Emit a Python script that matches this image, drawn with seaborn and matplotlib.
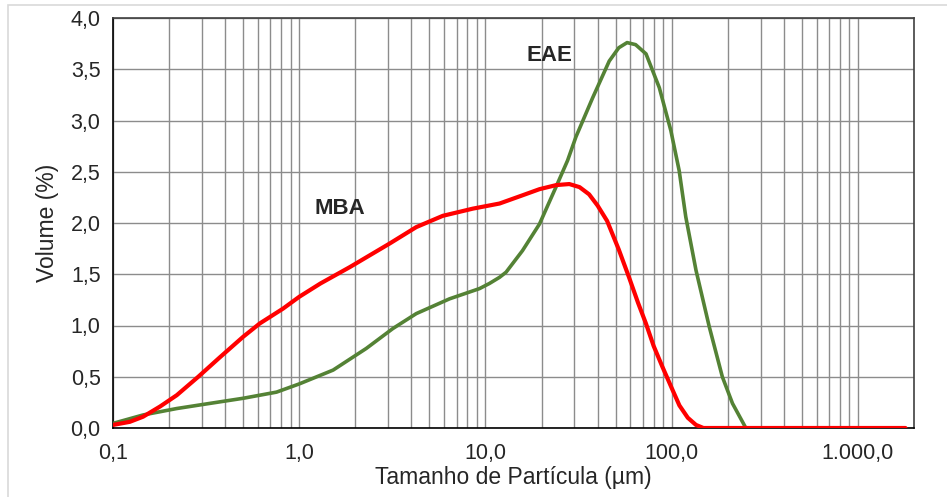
import matplotlib
matplotlib.use("Agg")
import matplotlib.pyplot as plt
import numpy as np
import pandas as pd
import seaborn as sns
from matplotlib.ticker import FixedLocator, NullFormatter
from matplotlib.patches import Rectangle

# curva MBA
mba_x = [0.1, 0.123, 0.145, 0.179, 0.22, 0.287, 0.375, 0.5, 0.614, 0.819, 1.0, 1.3,
         1.87, 3.06, 4.25, 5.9, 8.55, 11.9, 15.8, 19.5, 24.0, 28.2, 32.0, 36.0, 40.0,
         45.0, 52.0, 59.0, 66.0, 72.7, 80.0, 89.0, 100.0, 110.0, 122.0, 135.0, 148.0,
         1800.0]
mba_y = [0.03, 0.06, 0.11, 0.21, 0.32, 0.50, 0.69, 0.89, 1.02, 1.165, 1.28, 1.41,
         1.57, 1.80, 1.96, 2.07, 2.14, 2.19, 2.27, 2.33, 2.37, 2.38, 2.35, 2.28,
         2.17, 2.02, 1.74, 1.47, 1.22, 1.02, 0.80, 0.60, 0.39, 0.22, 0.10, 0.03, 0.0,
         0.0]

# curva EAE
eae_x = [0.1, 0.145, 0.22, 0.331, 0.5, 0.755, 1.0, 1.52, 2.29, 3.18, 4.25, 6.41, 9.29,
         10.5, 11.9, 12.9, 15.8, 19.5, 23.9, 27.6, 30.6, 37.6, 46.2, 52.0, 57.6, 64.0,
         72.8, 85.8, 99.0, 109.7, 119.0, 135.0, 159.0, 187.0, 212.0, 245.0, 250.0]
eae_y = [0.045, 0.127, 0.19, 0.24, 0.29, 0.35, 0.43, 0.565, 0.776, 0.97, 1.116, 1.26,
         1.36, 1.41, 1.47, 1.52, 1.73, 1.99, 2.35, 2.61, 2.84, 3.22, 3.58, 3.71, 3.76,
         3.74, 3.65, 3.32, 2.90, 2.51, 2.06, 1.54, 0.99, 0.50, 0.24, 0.03, 0.0]

xticks = [0.1, 1, 10, 100, 1000]
xtick_labels = ["0,1", "1,0", "10,0", "100,0", "1.000,0"]
yticks = [0, 0.5, 1.0, 1.5, 2.0, 2.5, 3.0, 3.5, 4.0]
ytick_labels = ["0,0", "0,5", "1,0", "1,5", "2,0", "2,5", "3,0", "3,5", "4,0"]

sns.set_style("white")
plt.rcParams['font.family'] = ['Liberation Sans', 'DejaVu Sans']

fig = plt.figure(figsize=(9.47, 4.97), dpi=100)
ax = fig.add_axes([113 / 947, 1 - 428 / 497, (914 - 113) / 947, (428 - 18) / 497])

# moldura clara da figura
fig.patches.append(Rectangle((8 / 947, -0.1), 1.2, 1 - 5 / 497 + 0.1,
                             transform=fig.transFigure, fill=False,
                             edgecolor="#d9d9d9", linewidth=1.2, zorder=-5))

sns.lineplot(x=eae_x, y=eae_y, ax=ax, color="#548235", linewidth=2.6, sort=False,
             zorder=3, solid_joinstyle="round", solid_capstyle="round")
sns.lineplot(x=mba_x, y=mba_y, ax=ax, color="#ff0000", linewidth=3.0, sort=False,
             zorder=4, solid_joinstyle="round", solid_capstyle="round")

ax.set_xscale("log")
ax.set_xlim(0.1, 2000)
ax.set_ylim(0, 4.0)

ax.xaxis.set_major_locator(FixedLocator(xticks))
ax.set_xticklabels(xtick_labels)
minors = [m * 10.0 ** d for d in range(-1, 4) for m in range(2, 10) if m * 10.0 ** d < 2000]
ax.xaxis.set_minor_locator(FixedLocator(minors))
ax.xaxis.set_minor_formatter(NullFormatter())
ax.set_yticks(yticks)
ax.set_yticklabels(ytick_labels)

ax.grid(True, which="major", axis="both", color="#8c8c8c", linewidth=1.0)
ax.grid(True, which="minor", axis="x", color="#8c8c8c", linewidth=1.0)
ax.set_axisbelow(True)

ax.tick_params(axis="x", which="major", direction="out", length=5, width=1,
               color="#404040", labelsize=15.5, pad=6)
ax.tick_params(axis="x", which="minor", length=0)
ax.tick_params(axis="y", direction="out", length=5, width=1, color="#404040",
               labelsize=15.5, pad=4)

for side in ["top", "right"]:
    ax.spines[side].set_color("#404040")
    ax.spines[side].set_linewidth(1.2)
for side in ["left", "bottom"]:
    ax.spines[side].set_color("#000000")
    ax.spines[side].set_linewidth(1.2)

ax.set_xlabel("Tamanho de Partícula (µm)", fontsize=16.5, labelpad=1)
ax.set_ylabel("Volume (%)", fontsize=16.5, labelpad=8)

ax.text(1.65, 2.14, "MBA", fontsize=16, fontweight="bold", ha="center", va="center")
ax.text(22.0, 3.63, "EAE", fontsize=16, fontweight="bold", ha="center", va="center")

fig.savefig("out.png", dpi=100)
